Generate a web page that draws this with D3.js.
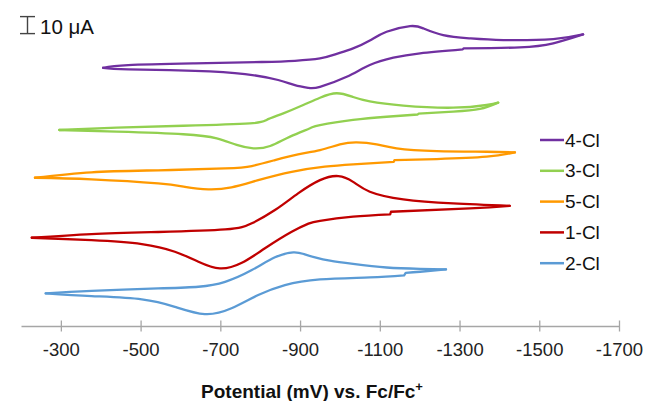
<!DOCTYPE html>
<html lang="en">

<head>
    <meta charset="UTF-8">
    <title>CV</title>
    <script src="https://d3js.org/d3.v7.min.js"></script>
    <style>
        body,
        html {
            margin: 0px;
            background: #fff;
            font-family: 'Liberation Sans', Arial, sans-serif;
        }
    </style>
</head>

<body>
    <div id="chart"></div>

    <script>
        // potential (mV vs Fc/Fc+) , current (uA) relative to the start of each scan
        // loop: left tip -> upper branch -> right tip -> lower branch -> left tip
        const series = ["4-Cl", "3-Cl", "5-Cl", "1-Cl", "2-Cl"]
        const colors = ["#7030a0", "#92d050", "#ff9900", "#c00000", "#5b9bd5"]
        const offsets = [151.9, 115.3, 87.2, 51.9, 19.2] // uA, vertical stacking

        const cv4Cl = [[-406, 0], [-469, 1.6], [-636, 2.6], [-804, 3.4], [-887, 4.1], [-950, 5.5], [-990, 8.0],
        [-1033, 11.4], [-1075, 16.0], [-1117, 21.2], [-1176, 24.5], [-1209, 23.2], [-1259, 19.2], [-1326, 17.3],
        [-1410, 16.3], [-1535, 16.9], [-1610, 19.6],
        [-1535, 14.4], [-1451, 12.0], [-1310, 11.4], [-1308, 10.8], [-1201, 8.5], [-1134, 5.9], [-1075, 1.6],
        [-1017, -5.3], [-950, -11.2], [-921, -11.8], [-887, -10.2], [-845, -7.2], [-762, -3.7], [-636, -1.8],
        [-469, -0.9], [-406, 0]]

        const cv3Cl = [[-296, 0], [-440, 1.4], [-607, 2.5], [-774, 3.9], [-816, 5.9], [-858, 9.8], [-908, 14.7],
        [-950, 19.0], [-992, 21.6], [-1033, 19.4], [-1075, 16.8], [-1159, 14.3], [-1284, 13.1], [-1368, 14.7],
        [-1397, 16.1],
        [-1351, 12.4], [-1284, 10.8], [-1197, 9.6], [-1195, 9.1], [-1117, 7.8], [-1033, 5.9], [-950, 2.9],
        [-925, 1.0], [-875, -3.9], [-825, -9.4], [-783, -10.8], [-741, -8.8], [-691, -4.9], [-607, -2.5],
        [-440, -1.0], [-296, 0]]

        const cv5Cl = [[-235, 0], [-377, 3.2], [-544, 4.4], [-712, 5.5], [-779, 6.9], [-837, 10.4], [-895, 13.8],
        [-950, 16.3], [-1000, 19.6], [-1042, 20.8], [-1092, 19.6], [-1142, 17.3], [-1243, 15.7], [-1368, 15.3],
        [-1439, 14.9],
        [-1368, 12.4], [-1243, 11.0], [-1137, 10.4], [-1135, 9.4], [-1033, 7.9], [-962, 6.5], [-879, 3.5],
        [-795, -1.4], [-728, -5.6], [-670, -6.8], [-611, -5.3], [-544, -3.3], [-377, -0.9], [-235, 0]]

        const cv1Cl = [[-227, 0], [-377, 2.2], [-544, 3.4], [-712, 4.9], [-779, 8.5], [-837, 16.3], [-895, 26.1],
        [-950, 33.9], [-996, 36.3], [-1033, 32.9], [-1075, 27.1], [-1159, 22.6], [-1284, 20.2], [-1426, 18.8],
        [-1326, 17.3], [-1128, 15.3], [-1126, 13.8], [-1033, 12.4], [-950, 10.0], [-921, 8.3], [-879, 3.5],
        [-812, -6.2], [-754, -14.7], [-699, -18.0], [-645, -14.1], [-586, -8.2], [-503, -3.7], [-377, -1.4],
        [-227, 0]]

        const cv2Cl = [[-262, 0], [-377, 1.5], [-544, 2.9], [-645, 3.9], [-712, 6.8], [-779, 13.7], [-837, 21.2],
        [-883, 24.1], [-910, 23.1], [-940, 21.0], [-975, 19.2], [-1033, 17.3], [-1117, 15.2], [-1201, 14.4],
        [-1266, 14.1],
        [-1201, 12.7], [-1165, 12.1], [-1161, 10.6], [-1075, 9.4], [-950, 8.2], [-862, 4.9], [-795, -1.0],
        [-728, -8.8], [-661, -12.2], [-586, -7.9], [-503, -3.5], [-377, -1.6], [-262, 0]]

        const curves = [cv4Cl, cv3Cl, cv5Cl, cv1Cl, cv2Cl]
        const xTicks = [-300, -500, -700, -900, -1100, -1300, -1500, -1700]
        const scaleBar = 10 // uA

        const width = 646, height = 401

        const svg = d3.select("#chart")
            .append("svg")
            .attr("width", width)
            .attr("height", height)

        const x = d3.scaleLinear().domain([-200, -1700]).range([21, 619])
        const y = d3.scaleLinear().domain([0, 190]).range([326, 3])

        // x axis, ticks crossing the line
        const axis = svg.append("g")
            .attr("transform", `translate(0,${y(0)})`)
            .call(d3.axisBottom(x).tickValues(xTicks).tickFormat(d => String(d)).tickSize(0).tickSizeOuter(0))
        axis.select(".domain").attr("stroke", "#a6a6a6").attr("stroke-width", 1.3)
        axis.selectAll(".tick line").attr("stroke", "#a6a6a6").attr("stroke-width", 1.3)
            .attr("y1", -5.5).attr("y2", 5.5)
        axis.selectAll(".tick text")
            .attr("y", 30).attr("dy", 0)
            .attr("fill", "#222")
            .style("font-family", "'Liberation Sans', Arial, sans-serif")
            .style("font-size", "18.5px")

        svg.append("text")
            .attr("x", 312).attr("y", 398)
            .attr("text-anchor", "middle")
            .style("font-size", "19px")
            .style("font-weight", "bold")
            .attr("fill", "#111")
            .text("Potential (mV) vs. Fc/Fc")
            .append("tspan")
            .attr("dy", -7)
            .style("font-size", "13px")
            .text("+")

        // scale bar
        const sb = svg.append("g").attr("stroke", "#444").attr("stroke-width", 1.4)
        const y0 = y(172), y1 = y(172 + scaleBar)
        sb.append("line").attr("x1", 27.5).attr("x2", 27.5).attr("y1", y0).attr("y2", y1)
        sb.append("line").attr("x1", 20).attr("x2", 35).attr("y1", y0).attr("y2", y0)
        sb.append("line").attr("x1", 20).attr("x2", 35).attr("y1", y1).attr("y2", y1)
        svg.append("text")
            .attr("x", 40).attr("y", y0 + 0.5)
            .style("font-size", "20.5px")
            .attr("fill", "#111")
            .text("10 \u03bcA")

        // curves: each loop split into forward / reverse branch at the switching potential,
        // branches drawn as natural splines, broken at the small current-range steps
        const line = d3.line()
            .x(d => d[0])
            .y(d => d[1])
            .curve(d3.curveNatural)

        function branchPath(b) {
            const parts = [[b[0]]]
            for (let i = 1; i < b.length; i++) {
                if (Math.abs(b[i][0] - b[i - 1][0]) < 2) parts.push([])
                parts[parts.length - 1].push(b[i])
            }
            return parts.map((p, i) => {
                const s = p.length > 1 ? line(p) : `M${p[0][0]},${p[0][1]}`
                return i ? s.replace(/^M/, "L") : s
            }).join("")
        }

        curves.forEach((pts, k) => {
            const turn = d3.minIndex(pts, d => d[0])
            const toPx = p => [x(p[0]), y(p[1] + offsets[k])]
            const fwd = pts.slice(0, turn + 1).map(toPx)
            const rev = pts.slice(turn).map(toPx).reverse()
            const g = svg.append("g")
            ;[fwd, rev].forEach(b => {
                g.append("path")
                    .attr("d", branchPath(b))
                    .attr("fill", "none")
                    .attr("stroke", colors[k])
                    .attr("stroke-width", 2.3)
                    .attr("stroke-linecap", "round")
                    .attr("stroke-linejoin", "round")
            })
        })

        // legend
        const legend = svg.append("g")
            .selectAll("g")
            .data(series)
            .enter()
            .append("g")
            .attr("transform", (d, i) => `translate(540,${140 + i * 30.8})`)
        legend.append("line")
            .attr("x1", 0).attr("x2", 24)
            .attr("stroke", (d, i) => colors[i])
            .attr("stroke-width", 2.5)
        legend.append("text")
            .attr("x", 25).attr("y", 6.5)
            .style("font-size", "19px")
            .attr("fill", "#111")
            .text(d => d)
    </script>
</body>

</html>
